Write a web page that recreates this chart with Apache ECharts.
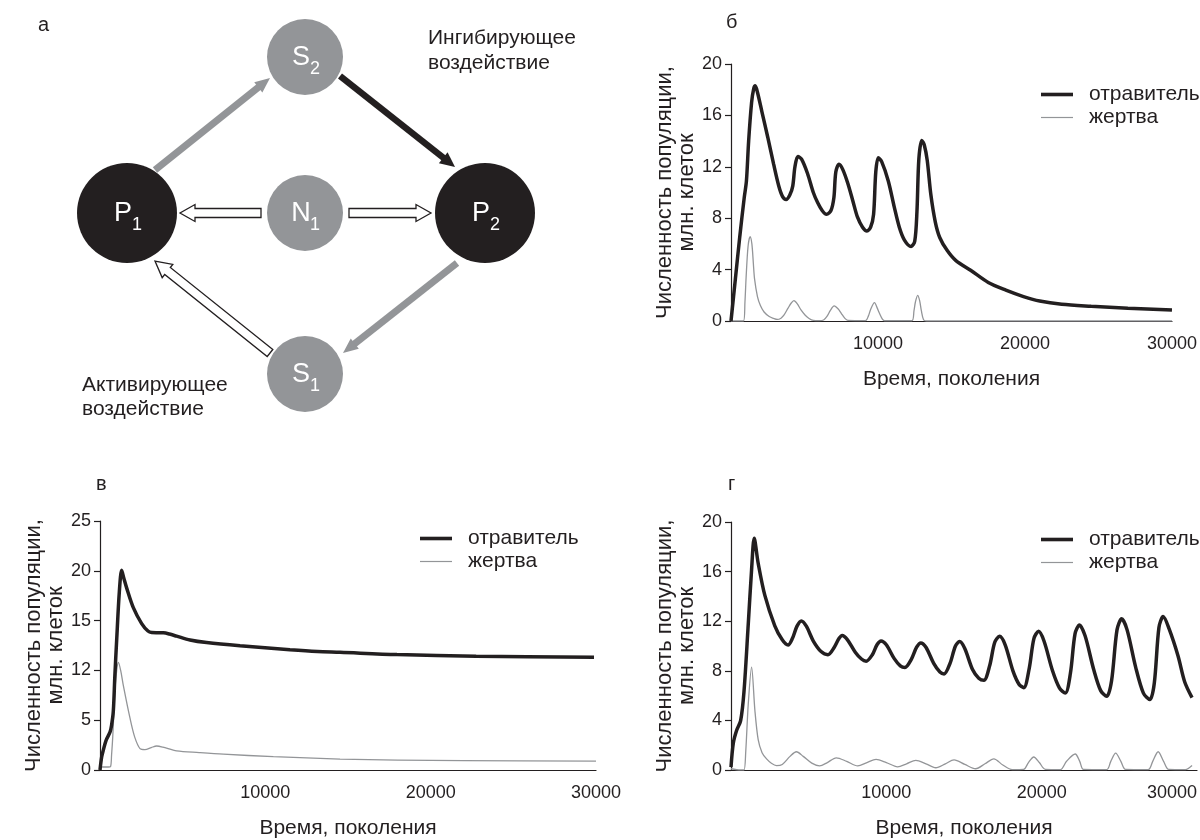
<!DOCTYPE html>
<html><head><meta charset="utf-8">
<script src="https://cdn.jsdelivr.net/npm/echarts@6/dist/echarts.min.js"></script>
<style>html,body{margin:0;padding:0;background:#fff}#c{width:1200px;height:840px}</style>
</head><body><div id="c"></div>
<script>
// ---------- data ----------
const seriesNames = ['отравитель', 'жертва'];
const xTickValues = [10000, 20000, 30000];
const yLabelsV = ['0', '5', '12', '15', '20', '25'];   // tick labels of panel в as printed

// panel б
const poisonB = [[0,0],[300,3.3],[600,6.6],[900,9.6],[1050,10.9],[1200,14.0],[1400,17.0],[1550,18.1],[1650,18.3],[1800,17.8],[2100,16.3],[2500,14.3],[2900,12.2],[3250,10.5],[3500,9.7],[3750,9.45],[4000,9.8],[4200,10.5],[4350,12.0],[4550,12.8],[4800,12.6],[5200,11.5],[5600,10.0],[5900,9.2],[6200,8.6],[6500,8.3],[6800,8.6],[7000,9.6],[7130,11.6],[7350,12.2],[7600,11.8],[7950,10.7],[8300,9.3],[8600,8.1],[8950,7.3],[9250,7.0],[9500,7.3],[9700,8.3],[9850,11.6],[10020,12.7],[10250,12.4],[10700,10.9],[11100,8.9],[11450,7.3],[11800,6.3],[12250,5.8],[12500,6.2],[12650,8.5],[12780,12.6],[12980,14.05],[13150,13.7],[13350,12.5],[13600,9.8],[13900,7.7],[14200,6.5],[14700,5.5],[15300,4.7],[16300,3.95],[17500,3.0],[18700,2.4],[19900,1.9],[21000,1.55],[22500,1.3],[24500,1.15],[27000,1.0],[30000,0.85]];
const preyB = [[0,0],[850,0],[950,1.5],[1030,3.45],[1160,5.8],[1300,6.56],[1420,6.0],[1520,4.5],[1600,3.3],[1800,1.9],[2000,1.2],[2250,0.7],[2600,0.35],[2900,0.2],[3150,0.12],[3400,0.22],[3600,0.45],[3880,1.0],[4100,1.4],[4280,1.58],[4500,1.35],[4760,0.86],[5050,0.45],[5310,0.2],[5600,0.05],[6000,0.03],[6300,0.08],[6550,0.4],[6750,0.8],[7020,1.17],[7280,0.95],[7500,0.6],[7750,0.2],[7950,0.05],[9150,0.03],[9350,0.4],[9500,0.9],[9760,1.43],[9950,1.0],[10100,0.6],[10300,0.15],[10450,0.02],[12300,0.02],[12450,0.8],[12550,1.5],[12700,2.0],[12830,1.6],[12950,0.8],[13100,0.1],[13300,0],[30000,0]];

// panel в
const poisonV = [[0,0],[100,1.3],[200,2.0],[363,2.96],[605,3.8],[700,4.5],[805,5.9],[900,9.5],[1010,13.1],[1170,17.9],[1310,20.05],[1450,19.2],[1615,18.26],[2015,16.3],[2520,14.7],[2900,13.95],[3125,13.8],[3500,13.78],[3830,13.77],[4200,13.65],[4635,13.44],[5445,13.05],[6450,12.79],[8470,12.47],[11490,12.08],[13150,11.9],[14520,11.82],[17960,11.59],[22750,11.43],[29880,11.33]];
const preyV = [[0,0.3],[500,0.3],[640,0.35],[700,1.5],[770,3.3],[910,8.2],[1010,10.0],[1110,10.8],[1250,10.0],[1410,8.5],[1815,5.2],[2100,3.3],[2420,2.15],[2720,2.05],[3100,2.25],[3425,2.41],[3800,2.3],[4635,1.92],[6000,1.75],[7460,1.59],[10485,1.34],[14520,1.1],[18000,1.0],[22000,0.95],[30000,0.9]];

// panel г
const poisonG = [[0,0.23],[150,2.17],[365,3.2],[620,3.98],[835,6.3],[1110,11.75],[1325,16.15],[1495,18.68],[1750,16.67],[2180,14.08],[2820,11.63],[3300,10.5],[3675,10.08],[3950,10.6],[4250,11.6],[4530,12.02],[4850,11.6],[5300,10.4],[5800,9.55],[6240,9.3],[6650,9.9],[6950,10.6],[7160,10.85],[7500,10.5],[8000,9.5],[8400,8.95],[8700,8.78],[9100,9.3],[9400,10.1],[9660,10.41],[10000,10.1],[10500,9.0],[10900,8.4],[11200,8.26],[11600,8.9],[11950,9.9],[12220,10.25],[12550,9.9],[13050,8.6],[13450,7.9],[13720,7.75],[14100,8.6],[14450,10.0],[14720,10.36],[15050,9.8],[15550,8.1],[15950,7.4],[16280,7.23],[16650,8.4],[16980,10.3],[17290,10.78],[17650,10.1],[18150,8.0],[18550,6.9],[18850,6.64],[19200,8.2],[19500,10.6],[19800,11.18],[20150,10.4],[20700,8.0],[21150,6.6],[21520,6.2],[21850,7.8],[22150,11.0],[22435,11.7],[22800,10.8],[23350,8.1],[23800,6.4],[24190,5.94],[24500,7.2],[24850,11.3],[25150,12.19],[25500,11.3],[26050,8.3],[26550,6.2],[26965,5.68],[27250,7.0],[27550,11.5],[27820,12.37],[28200,11.4],[28780,9.2],[29210,7.1],[29680,5.84]];
const preyG = [[0,0.1],[620,0],[835,0],[950,1.5],[1110,5.3],[1325,8.3],[1540,4.78],[1750,2.45],[2000,1.4],[2290,0.9],[2600,0.55],[2930,0.36],[3300,0.45],[3800,1.1],[4210,1.47],[4650,1.1],[5200,0.55],[5705,0.33],[6200,0.6],[6775,0.98],[7450,0.7],[8160,0.33],[8750,0.6],[9340,0.85],[10000,0.6],[10725,0.26],[11300,0.5],[11900,0.78],[12550,0.5],[13185,0.18],[13800,0.5],[14360,0.82],[15050,0.45],[15750,0.1],[16350,0.5],[16920,0.9],[17500,0.4],[18100,0.03],[18840,0.05],[19150,0.6],[19490,1.05],[19850,0.6],[20240,0.05],[21205,0.03],[21600,0.7],[22160,1.29],[22450,0.7],[22690,0.05],[24190,0.03],[24450,0.7],[24765,1.36],[25100,0.7],[25400,0.05],[26860,0.03],[27150,0.7],[27500,1.47],[27850,0.7],[28180,0.05],[29250,0.03],[29680,0.36]];

// ---------- styles ----------
const DARK = '#231f20', GRAY = '#939598', F = '"Liberation Sans", Arial, sans-serif';

const grids = [
  {left: 731, top: 64, width: 456, height: 257},
  {left: 100, top: 521, width: 496, height: 256},
  {left: 731, top: 522, width: 468, height: 258}
];

function xAxis(i, alignMax) {
  return {type: 'value', gridIndex: i, min: 0, max: 30000, interval: 10000,
    name: 'Время, поколения', nameLocation: 'middle', nameGap: 48,
    nameTextStyle: {fontFamily: F, fontSize: 21, color: DARK},
    axisLine: {lineStyle: {color: DARK, width: 1.2}}, axisTick: {show: false}, splitLine: {show: false},
    axisLabel: {fontFamily: F, fontSize: 18, color: DARK, margin: 14, showMinLabel: false, alignMaxLabel: alignMax,
      formatter: v => xTickValues.indexOf(v) >= 0 ? String(v) : ''}};
}
function yAxis(i, max, interval, fmt) {
  return {type: 'value', gridIndex: i, min: 0, max: max, interval: interval,
    name: 'Численность популяции,\nмлн. клеток', nameLocation: 'middle', nameGap: 32, nameRotate: 90,
    nameTextStyle: {fontFamily: F, fontSize: 22, color: DARK, lineHeight: 22, align: 'center'},
    axisLine: {show: true, lineStyle: {color: DARK, width: 1.2}},
    axisTick: {show: true, length: 6, lineStyle: {color: DARK, width: 1.2}},
    splitLine: {show: false},
    axisLabel: {fontFamily: F, fontSize: 18, color: DARK, margin: 9, formatter: fmt}};
}
function line(name, i, data, color, width) {
  return {type: 'line', name: name, xAxisIndex: i, yAxisIndex: i, data: data,
    symbol: 'none', showSymbol: false, smooth: 0.3, silent: true,
    lineStyle: {color: color, width: width}, itemStyle: {color: color}, z: color === DARK ? 3 : 2};
}
function legendAt(left, top) {
  return {left: left, top: top, orient: 'vertical', itemWidth: 32, itemHeight: 14, itemGap: 0, selectedMode: false,
    itemStyle: {borderWidth: 0},
    textStyle: {fontFamily: F, fontSize: 21, lineHeight: 23, color: DARK, padding: [0, 0, 0, 11]},
    data: [{name: seriesNames[0], icon: 'path://M0 0H32V3.6H0Z'}, {name: seriesNames[1], icon: 'path://M0 0H32V1.2H0Z'}]};
}

// ---------- diagram (panel а) ----------
function circle(cx, cy, r, fill) { return {type: 'circle', shape: {cx, cy, r}, style: {fill}}; }
function nodeText(cx, cy, main, sub) {
  return [
    {type: 'text', x: cx - 4, y: cy + 1, style: {text: main, fill: '#fff', font: '27px ' + F, align: 'center', verticalAlign: 'middle'}},
    {type: 'text', x: cx + 10, y: cy + 12, style: {text: sub, fill: '#fff', font: '18px ' + F, align: 'center', verticalAlign: 'middle'}}
  ];
}
function geom(x1, y1, x2, y2) {
  const dx = x2 - x1, dy = y2 - y1, L = Math.hypot(dx, dy);
  return {ux: dx / L, uy: dy / L, nx: -dy / L, ny: dx / L};
}
function solidArrow(x1, y1, x2, y2, color, w, hl, hw) {
  const g = geom(x1, y1, x2, y2);
  const bx = x2 - g.ux * hl, by = y2 - g.uy * hl;
  return [
    {type: 'line', shape: {x1, y1, x2: bx + g.ux, y2: by + g.uy}, style: {stroke: color, lineWidth: w}},
    {type: 'polygon', shape: {points: [[x2, y2], [bx + g.nx * hw / 2, by + g.ny * hw / 2], [bx - g.nx * hw / 2, by - g.ny * hw / 2]]}, style: {fill: color}}
  ];
}
function openArrow(x1, y1, x2, y2, sw, hl, hw) {
  const g = geom(x1, y1, x2, y2);
  const bx = x2 - g.ux * hl, by = y2 - g.uy * hl;
  const p = (x, y, k) => [x + g.nx * k, y + g.ny * k];
  return {type: 'polygon', shape: {points: [p(x1, y1, sw / 2), p(bx, by, sw / 2), p(bx, by, hw / 2), [x2, y2], p(bx, by, -hw / 2), p(bx, by, -sw / 2), p(x1, y1, -sw / 2)]},
    style: {fill: '#fff', stroke: DARK, lineWidth: 1.3}};
}
function txt(x, y, s, size) { return {type: 'text', x, y, style: {text: s, fill: DARK, font: size + 'px ' + F, verticalAlign: 'middle'}}; }

const graphics = [].concat(
  solidArrow(155, 170, 270, 78, GRAY, 7, 15, 13),
  solidArrow(340, 76, 455, 167, DARK, 6.5, 15, 14),
  solidArrow(457, 263, 343, 353, GRAY, 7, 15, 13),
  [openArrow(261, 213, 180, 213, 9, 15, 17), openArrow(349, 213, 431, 213, 9, 15, 17), openArrow(270, 353, 155, 261, 9, 16, 17)],
  [circle(305, 57, 38, GRAY), circle(127, 213, 50, DARK), circle(305, 213, 38, GRAY), circle(485, 213, 50, DARK), circle(305, 374, 38, GRAY)],
  nodeText(305, 57, 'S', '2'), nodeText(127, 213, 'P', '1'), nodeText(305, 213, 'N', '1'),
  nodeText(485, 213, 'P', '2'), nodeText(305, 374, 'S', '1'),
  [txt(428, 38, 'Ингибирующее', 21), txt(428, 63, 'воздействие', 21),
   txt(82, 385, 'Активирующее', 21), txt(82, 409, 'воздействие', 21),
   txt(38, 25, 'а', 20), txt(726, 22, 'б', 20), txt(96, 484, 'в', 20), txt(728, 484, 'г', 20)]
);

const chart = echarts.init(document.getElementById('c'), null, {renderer: 'canvas'});
chart.setOption({
  animation: false,
  backgroundColor: '#fff',
  grid: grids,
  xAxis: [xAxis(0, 'center'), xAxis(1, 'center'), xAxis(2, 'right')],
  yAxis: [
    yAxis(0, 20, 4, v => String(v)),
    yAxis(1, 25, 5, v => yLabelsV[Math.round(v / 5)]),
    yAxis(2, 20, 4, v => String(v))
  ],
  legend: [legendAt(1036, 78), legendAt(415, 522), legendAt(1036, 523)],
  series: [
    line(seriesNames[0], 0, poisonB, DARK, 3.5), line(seriesNames[1], 0, preyB, GRAY, 1.3),
    line(seriesNames[0], 1, poisonV, DARK, 3.5), line(seriesNames[1], 1, preyV, GRAY, 1.3),
    line(seriesNames[0], 2, poisonG, DARK, 3.5), line(seriesNames[1], 2, preyG, GRAY, 1.3)
  ],
  graphic: graphics
});
</script></body></html>
